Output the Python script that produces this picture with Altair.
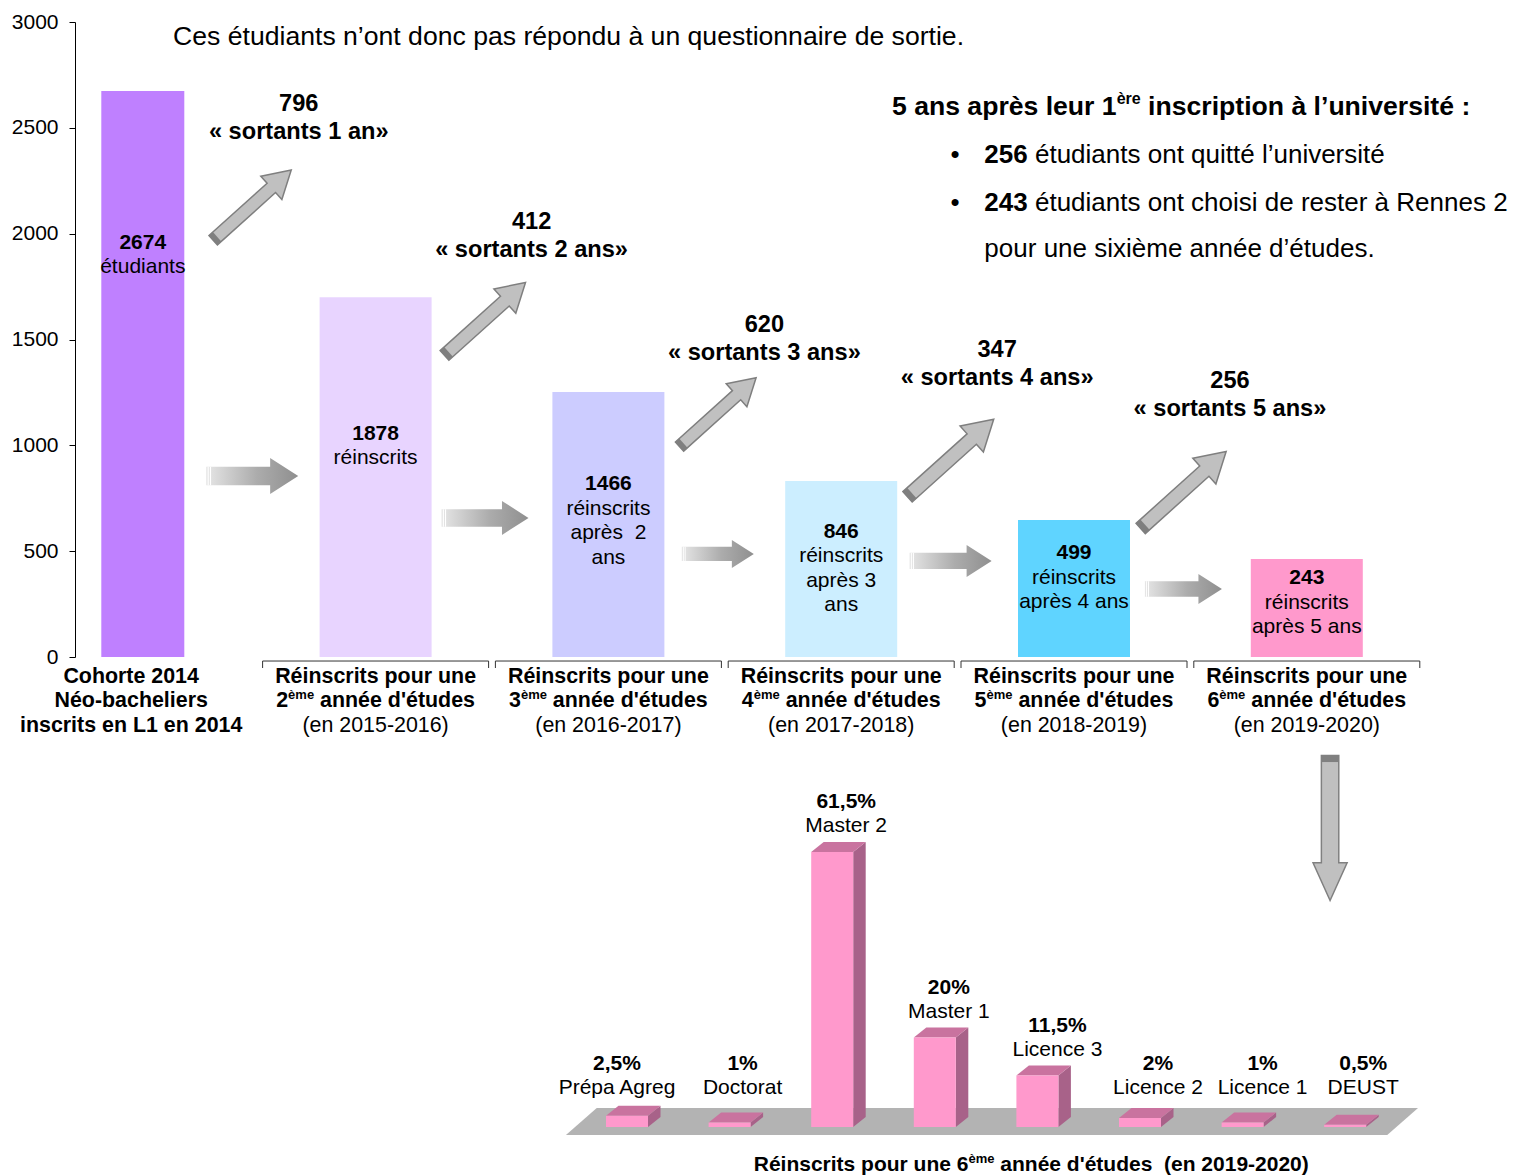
import altair as alt
import pandas as pd

# ------------------------------------------------------------------
# Values
# ------------------------------------------------------------------
stage_values = [2674, 1878, 1466, 846, 499, 243]          # printed numbers
stage_heights = [2674, 1700, 1252, 831, 647, 463]          # bar heights as drawn
stage_colors = ["#bf80ff", "#e8d4ff", "#ccccff", "#cceeff", "#5fd4ff", "#ff99cc"]
NB = "\u00a0"
stage_sub_lines = [["étudiants"], ["réinscrits"], ["réinscrits", "après " + NB + "2", "ans"],
                   ["réinscrits", "après 3", "ans"], ["réinscrits", "après 4 ans"],
                   ["réinscrits", "après 5 ans"]]
first_stage_label = ["Cohorte 2014", "Néo-bacheliers", "inscrits en L1 en 2014"]
stage_ordinals = ["2", "3", "4", "5", "6"]
stage_years = ["(en 2015-2016)", "(en 2016-2017)", "(en 2017-2018)",
               "(en 2018-2019)", "(en 2019-2020)"]

leavers = [796, 412, 620, 347, 256]
leaver_years = ["1 an", "2 ans", "3 ans", "4 ans", "5 ans"]

levels = ["Prépa Agreg", "Doctorat", "Master 2", "Master 1", "Licence 3",
          "Licence 2", "Licence 1", "DEUST"]
level_pcts = [2.5, 1, 61.5, 20, 11.5, 2, 1, 0.5]
level_pct_labels = ["2,5%", "1%", "61,5%", "20%", "11,5%", "2%", "1%", "0,5%"]

intro_text = "Ces étudiants n’ont donc pas répondu à un questionnaire de sortie."
summary_title = [("5 ans après leur 1", False), ("ère", True),
                 (" inscription à l’université :", False)]
summary_numbers = ["256", "243"]
summary_lines = [" étudiants ont quitté l’université",
                 " étudiants ont choisi de rester à Rennes 2",
                 "pour une sixième année d’études."]
bottom_title = [("Réinscrits pour une 6", False), ("ème", True),
                (" année d'études " + NB + "(en 2019-2020)", False)]

# annotation anchors, in y-axis data units
INNER_LABEL_Y = [1956, 1054, 817, 591, 491, 373]
LEAVER_Y = [2613, 2055, 1568, 1450, 1304]
DIAG_ARROW_Y = [2135, 1597, 1157, 940, 789]
FLOW_ARROW_Y = [855, 657, 487, 454, 321]
DIAG_ARROW_LEN = [105, 109, 103, 116, 115]
FLOW_ARROW_LEN = [92, 87, 72, 82, 77]
LEVEL_LABEL_DX = [-10, 13, 14, 14, 20, 18, 20, 18]   # px shift of the labels

# ------------------------------------------------------------------
# Scales / geometry
# ------------------------------------------------------------------
FONT = "Liberation Sans"
PXU = 232.8                                   # px per stage
XT = alt.Scale(domain=[0, 5], range=[67.8, 67.8 + 5 * PXU], nice=False, zero=False)
YT = alt.Scale(domain=[0, 3000], range=[649, 14], nice=False, zero=False)
YU = 3000 / 635.0                             # y units per px (top chart)

PXB = 102.6
XB = alt.Scale(domain=[0, 7], range=[552, 552 + 7 * PXB], nice=False, zero=False)
PCT_PX = 4.4715
YB = alt.Scale(domain=[0, 100], range=[1119, 1119 - 100 * PCT_PX], nice=False, zero=False)

W_REG = {" ": 278, NB: 278, "(": 333, ")": 333, ",": 278, "-": 333, ".": 278, ":": 278,
         "%": 889, "'": 191, "’": 222, "«": 556, "»": 556, "•": 350,
         "A": 667, "C": 722, "D": 722, "E": 667, "L": 556, "M": 833, "N": 722, "P": 667,
         "R": 722, "S": 667, "T": 611, "U": 722,
         "a": 556, "b": 556, "c": 500, "d": 556, "e": 556, "f": 278, "g": 556, "h": 556,
         "i": 222, "l": 222, "m": 833, "n": 556, "o": 556, "p": 556, "q": 556, "r": 333,
         "s": 500, "t": 278, "u": 556, "v": 500, "x": 500, "è": 556, "é": 556, "à": 556}
W_BOLD = {" ": 278, NB: 278, "(": 333, ")": 333, ",": 278, "-": 333, ".": 278, ":": 333,
          "%": 889, "'": 238, "’": 278, "«": 556, "»": 556,
          "A": 722, "C": 722, "D": 722, "E": 667, "L": 611, "M": 833, "N": 722, "P": 667,
          "R": 722, "S": 667, "T": 611, "U": 722,
          "a": 556, "b": 611, "c": 556, "d": 611, "e": 556, "f": 333, "g": 611, "h": 611,
          "i": 278, "l": 278, "m": 889, "n": 611, "o": 611, "p": 611, "q": 611, "r": 389,
          "s": 556, "t": 333, "u": 611, "v": 556, "x": 556, "è": 556, "é": 556, "à": 556}


def tw(s, size, bold=False):
    table = W_BOLD if bold else W_REG
    return sum(table.get(ch, 556) for ch in s) * size / 1000.0


def split_lead(t):
    """Leading blanks are dropped by the renderer: return (blank, rest)."""
    rest = t.lstrip(" " + NB)
    return t[:len(t) - len(rest)], rest


def pieces(parts, x_anchor, y, size, sup_size, pxu, centered=True):
    widths = [tw(t, sup_size if s else size, True) for t, s in parts]
    total = sum(widths)
    off = -total / 2 if centered else 0.0
    main, sup = [], []
    for (t, s), w in zip(parts, widths):
        blank, rest = split_lead(t)
        lead = tw(blank, sup_size if s else size, True)
        row = {"x": x_anchor + (off + lead) / pxu, "y": y, "t": rest}
        (sup if s else main).append(row)
        off += w
    return main, sup


def text_layer(rows, xs, ys, size, bold=False, align="center", dx=0, dy=0):
    return alt.Chart(pd.DataFrame(rows)).mark_text(
        font=FONT, fontSize=size, fontWeight="bold" if bold else "normal",
        align=align, baseline="middle", dx=dx, dy=dy, color="#000000"
    ).encode(x=alt.X("x:Q", scale=xs, axis=None),
             y=alt.Y("y:Q", scale=ys, axis=None),
             text="t:N")


layers = []

# ------------------------------------------------------------------
# Top chart : cohort bars
# ------------------------------------------------------------------
bar_half = [41.5 / PXU] + [56 / PXU] * 5
bars = pd.DataFrame({
    "x0": [i - h for i, h in enumerate(bar_half)],
    "x1": [i + h for i, h in enumerate(bar_half)],
    "y0": [0] * 6,
    "h": stage_heights,
    "c": stage_colors,
})
yaxis = alt.Axis(values=[0, 500, 1000, 1500, 2000, 2500, 3000], title="", grid=False,
                 domainColor="#000000", tickColor="#000000", tickSize=6, ticks=True,
                 labelFont=FONT, labelFontSize=21, labelColor="#000000", labelPadding=11,
                 labelFlush=False, labelOverlap=False, format="d")
layers.append(alt.Chart(bars).mark_rect().encode(
    x=alt.X("x0:Q", scale=XT, axis=None), x2="x1",
    y=alt.Y("y0:Q", scale=YT, axis=yaxis), y2="h",
    color=alt.Color("c:N", scale=None)))

# brackets under stages 2..6
BR_Y, BR_Y2, BR_H = -19, -52, 113 / PXU
br = pd.DataFrame({"x0": [k - BR_H for k in range(1, 6)], "x1": [k + BR_H for k in range(1, 6)],
                   "y": [BR_Y] * 5, "y2": [BR_Y2] * 5})
layers.append(alt.Chart(br).mark_rule(color="#333333", strokeWidth=1).encode(
    x=alt.X("x0:Q", scale=XT, axis=None), x2="x1", y=alt.Y("y:Q", scale=YT, axis=None)))
ticks = pd.DataFrame({"x": list(br["x0"]) + list(br["x1"]), "y": [BR_Y] * 10, "y2": [BR_Y2] * 10})
layers.append(alt.Chart(ticks).mark_rule(color="#333333", strokeWidth=1).encode(
    x=alt.X("x:Q", scale=XT, axis=None), y=alt.Y("y:Q", scale=YT, axis=None), y2="y2"))

# arrows
DIAG = "M-1,-0.12L0.49,-0.12L0.49,-0.3L1,0L0.49,0.3L0.49,0.12L-1,0.12Z"
DIAG_TAIL = "M-1,-0.12L-0.9,-0.12L-0.9,0.12L-1,0.12Z"
DOWN = "M-1,-0.12L0.48,-0.12L0.48,-0.235L1,0L0.48,0.235L0.48,0.12L-1,0.12Z"
DOWN_TAIL = "M-1,-0.12L-0.91,-0.12L-0.91,0.12L-1,0.12Z"
FLOW = "M-1,-0.2L0.39,-0.2L0.39,-0.39L1,0L0.39,0.39L0.39,0.2L-1,0.2Z"
FLOW_STRIPES = ("M-0.97,-0.2L-0.945,-0.2L-0.945,0.2L-0.97,0.2Z"
                "M-0.92,-0.2L-0.895,-0.2L-0.895,0.2L-0.92,0.2Z")

gap_x = [k + 0.47 for k in range(5)]
diag = pd.DataFrame({"x": gap_x, "y": DIAG_ARROW_Y, "s": [l * l for l in DIAG_ARROW_LEN]})
flow = pd.DataFrame({"x": gap_x, "y": FLOW_ARROW_Y, "s": [l * l for l in FLOW_ARROW_LEN]})
down = pd.DataFrame({"x": [5.1], "y": [-808], "s": [145 * 145]})


def symbol_layer(df, shape, angle, **style):
    return alt.Chart(df).mark_point(shape=shape, angle=angle, opacity=1, filled=True, **style).encode(
        x=alt.X("x:Q", scale=XT, axis=None), y=alt.Y("y:Q", scale=YT, axis=None),
        size=alt.Size("s:Q", scale=None, legend=None))


layers.append(symbol_layer(diag, DIAG, 318, fill="#c0c0c0", stroke="#7f7f7f", strokeWidth=1.5))
layers.append(symbol_layer(diag, DIAG_TAIL, 318, fill="#7f7f7f", strokeWidth=0))
layers.append(symbol_layer(down, DOWN, 90, fill="#c0c0c0", stroke="#808080", strokeWidth=1.5))
layers.append(symbol_layer(down, DOWN_TAIL, 90, fill="#808080", strokeWidth=0))
grad = alt.LinearGradient(gradient="linear", x1=0, x2=1, y1=0, y2=0, stops=[
    alt.GradientStop(color="#e6e6e6", offset=0),
    alt.GradientStop(color="#acacac", offset=0.55),
    alt.GradientStop(color="#8f8f8f", offset=1)])
layers.append(symbol_layer(flow, FLOW, 0, fill=grad, strokeWidth=0))
layers.append(symbol_layer(flow, FLOW_STRIPES, 0, fill="#ffffff", strokeWidth=0))

# texts in/around bars
LINE = 24.5 * YU
inner_bold, inner_reg = [], []
for i, (v, lines, y0) in enumerate(zip(stage_values, stage_sub_lines, INNER_LABEL_Y)):
    inner_bold.append({"x": i, "y": y0, "t": str(v)})
    for k, ln in enumerate(lines):
        inner_reg.append({"x": i, "y": y0 - (k + 1) * LINE, "t": ln})

CAT_Y = [-95, -210, -326]
CAT_FS = 21.4
cat_bold, cat_reg, cat_main, cat_sup = [], [], [], []
for k, ln in enumerate(first_stage_label):
    cat_bold.append({"x": -0.05, "y": CAT_Y[k], "t": ln})
for j, (o, yr) in enumerate(zip(stage_ordinals, stage_years)):
    i = j + 1
    cat_bold.append({"x": i, "y": CAT_Y[0], "t": "Réinscrits pour une"})
    m, s = pieces([(o, False), ("ème", True), (" année d'études", False)], i, CAT_Y[1],
                  CAT_FS, 13, PXU)
    cat_main += m
    cat_sup += s
    cat_reg.append({"x": i, "y": CAT_Y[2], "t": yr})

leave_rows = []
for k, (n, yr, y) in enumerate(zip(leavers, leaver_years, LEAVER_Y)):
    leave_rows.append({"x": k + 0.67, "y": y, "t": str(n)})
    leave_rows.append({"x": k + 0.67, "y": y - 28 * YU, "t": f"« sortants {yr}»"})

layers += [
    text_layer(inner_bold, XT, YT, 21, bold=True),
    text_layer(inner_reg, XT, YT, 21),
    text_layer(cat_bold, XT, YT, CAT_FS, bold=True),
    text_layer(cat_reg, XT, YT, CAT_FS),
    text_layer(cat_main, XT, YT, CAT_FS, bold=True, align="left"),
    text_layer(cat_sup, XT, YT, 13, bold=True, align="left", dy=-6),
    text_layer(leave_rows, XT, YT, 23.6, bold=True),
]

# intro + summary block
BIG = 26.6
SUMF = 26.0
layers.append(text_layer([{"x": 0.13, "y": 2929, "t": intro_text}], XT, YT, 26.6, align="left"))
hm, hs = pieces(summary_title, 3.218, 2598, BIG, 16, PXU, centered=False)
layers.append(text_layer(hm, XT, YT, BIG, bold=True, align="left"))
layers.append(text_layer(hs, XT, YT, 16, bold=True, align="left", dy=-8))
SUM_X, SUM_Y = 3.615, [2372, 2145, 1928]
layers.append(text_layer([{"x": 3.489, "y": y, "t": "•"} for y in SUM_Y[:2]], XT, YT, SUMF))
sum_bold = [{"x": SUM_X, "y": SUM_Y[k], "t": n} for k, n in enumerate(summary_numbers)]
sum_reg = []
for k in range(2):
    blank, rest = split_lead(summary_lines[k])
    off = tw(summary_numbers[k], SUMF, True) + tw(blank, SUMF)
    sum_reg.append({"x": SUM_X + off / PXU, "y": SUM_Y[k], "t": rest})
sum_reg.append({"x": SUM_X, "y": SUM_Y[2], "t": summary_lines[2]})
layers.append(text_layer(sum_bold, XT, YT, SUMF, bold=True, align="left"))
layers.append(text_layer(sum_reg, XT, YT, SUMF, align="left"))

# ------------------------------------------------------------------
# Bottom chart : 3D bars of the 6th-year destinations
# ------------------------------------------------------------------
HW, DX, DY = 21 / PXB, 12.5 / PXB, 10 / PCT_PX
FX0, FX1, FD, FLO, FHI = -0.595, 7.41, 0.3, -1.8, 4.25
floor = pd.DataFrame({"x": [FX0, FX0 + FD, FX1, FX1 + FD], "lo": [FLO, FLO, FLO, FHI],
                      "hi": [FLO, FHI, FHI, FHI]})

side_rows, top_rows = [], []
for i, v in enumerate(level_pcts):
    side_rows += [{"b": levels[i], "x": i + HW, "lo": 0, "hi": v},
                  {"b": levels[i], "x": i + HW + DX, "lo": DY, "hi": v + DY}]
    top_rows += [{"b": levels[i], "x": i - HW, "lo": v, "hi": v},
                 {"b": levels[i], "x": i - HW + DX, "lo": v, "hi": v + DY},
                 {"b": levels[i], "x": i + HW, "lo": v, "hi": v + DY},
                 {"b": levels[i], "x": i + HW + DX, "lo": v + DY, "hi": v + DY}]


def area_layer(df, color, grouped=True):
    enc = dict(x=alt.X("x:Q", scale=XB, axis=None),
               y=alt.Y("hi:Q", scale=YB, axis=None),
               y2=alt.Y2("lo:Q"))
    if grouped:
        enc["detail"] = alt.Detail("b:N")
    return alt.Chart(pd.DataFrame(df)).mark_area(
        color=color, opacity=1, orient="vertical").encode(**enc)


layers.append(area_layer(floor, "#b3b3b3", grouped=False))
layers.append(area_layer(side_rows, "#a86289"))
layers.append(area_layer(top_rows, "#c9739f"))
front = pd.DataFrame({"x0": [i - HW for i in range(8)], "x1": [i + HW for i in range(8)],
                      "y0": [0] * 8, "v": level_pcts})
layers.append(alt.Chart(front).mark_rect(color="#ff99cc").encode(
    x=alt.X("x0:Q", scale=XB, axis=None), x2="x1",
    y=alt.Y("y0:Q", scale=YB, axis=None), y2="v"))

lvl_pct, lvl_name = [], []
for i, (v, p, n, d) in enumerate(zip(level_pcts, level_pct_labels, levels, LEVEL_LABEL_DX)):
    lvl_pct.append({"x": i + d / PXB, "y": max(v, 3), "t": p})
    lvl_name.append({"x": i + d / PXB, "y": max(v, 3), "t": n})
layers.append(text_layer(lvl_pct, XB, YB, 21, bold=True, dy=-50))
layers.append(text_layer(lvl_name, XB, YB, 21, dy=-26))
bm, bs = pieces(bottom_title, 3.94, -8.5, 21, 13, PXB)
layers.append(text_layer(bm, XB, YB, 21, bold=True, align="left"))
layers.append(text_layer(bs, XB, YB, 13, bold=True, align="left", dy=-6))

chart = alt.layer(*layers).resolve_scale(x="independent", y="independent").properties(
    width=1435, height=1168,
    padding={"left": 67, "top": 0, "right": 0, "bottom": 0},
    autosize=alt.AutoSizeParams(type="none"),
    background="#ffffff",
).configure_view(strokeWidth=0)

chart.save("out.html", embed_options={"renderer": "svg", "actions": False})
